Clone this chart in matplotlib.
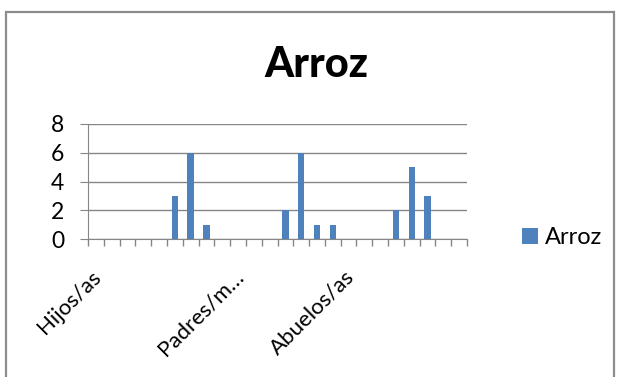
import matplotlib
matplotlib.use("Agg")
import matplotlib.pyplot as plt
from matplotlib.patches import Rectangle
import matplotlib.transforms as mtransforms
import numpy as np

plt.rcParams['font.family'] = ['Lato', 'DejaVu Sans']

# 24 categories, only three carry a visible label
categories = ["Hijos/as", "", "", "", "", "", "", "", "",
              "Padres/m…", "", "", "", "", "", "", "Abuelos/as",
              "", "", "", "", "", "", ""]
values = [0, 0, 0, 0, 0, 3, 6, 1, 0, 0, 0, 0, 2, 6, 1, 1, 0, 0, 0, 2, 5, 3, 0, 0]
series_name = "Arroz"
title = "Arroz"
yticks = [0, 2, 4, 6, 8]

W, H = 622, 377
fig = plt.figure(figsize=(W / 100, H / 100), dpi=100)

# outer chart border
fig.patches.append(Rectangle((6 / W, -0.1), (614 - 6) / W, (H - 12) / H + 0.1,
                             transform=fig.transFigure, fill=False,
                             edgecolor="#8c8c8c", lw=1.6))

ax = fig.add_axes([88 / W, (H - 239) / H, (467 - 88) / W, (239 - 124) / H])
n = len(categories)
x = np.arange(n) + 0.5
ax.bar(x, values, width=0.4, color="#4F81BD", label=series_name, zorder=3)

ax.set_xlim(0, n)
ax.set_ylim(0, 8)
ax.set_yticks(yticks)
ax.yaxis.grid(True, color="#868686", lw=1.0, zorder=0)
for s in ["top", "right"]:
    ax.spines[s].set_visible(False)
ax.spines["left"].set_color("#868686")
ax.spines["bottom"].set_color("#868686")
ax.tick_params(axis="y", length=6, color="#868686", pad=11, labelsize=16.5)

lab_pos = [xi for xi, c in zip(x, categories) if c]
lab_txt = [c for c in categories if c]
ax.set_xticks(lab_pos)
ax.set_xticklabels(lab_txt, rotation=45, ha="right", va="top",
                   rotation_mode="anchor", fontsize=16)
ax.set_xticks(np.arange(n + 1), minor=True)
ax.tick_params(axis="x", which="major", length=0, pad=20)
ax.tick_params(axis="x", which="minor", length=5, color="#868686", width=1)
offset = mtransforms.ScaledTranslation(-5 / 100, 0, fig.dpi_scale_trans)
for lbl in ax.get_xticklabels():
    lbl.set_transform(lbl.get_transform() + offset)

fig.text(316 / W, 1 - 77 / H, title, ha="center", va="baseline",
         fontsize=30, fontweight="black")

fig.legend(loc="center left", bbox_to_anchor=(513 / W, 1 - 238 / H),
           frameon=False, fontsize=17, handlelength=0.65, handleheight=0.65,
           handletextpad=0.3, borderaxespad=0)

fig.savefig("out.png", dpi=100)
